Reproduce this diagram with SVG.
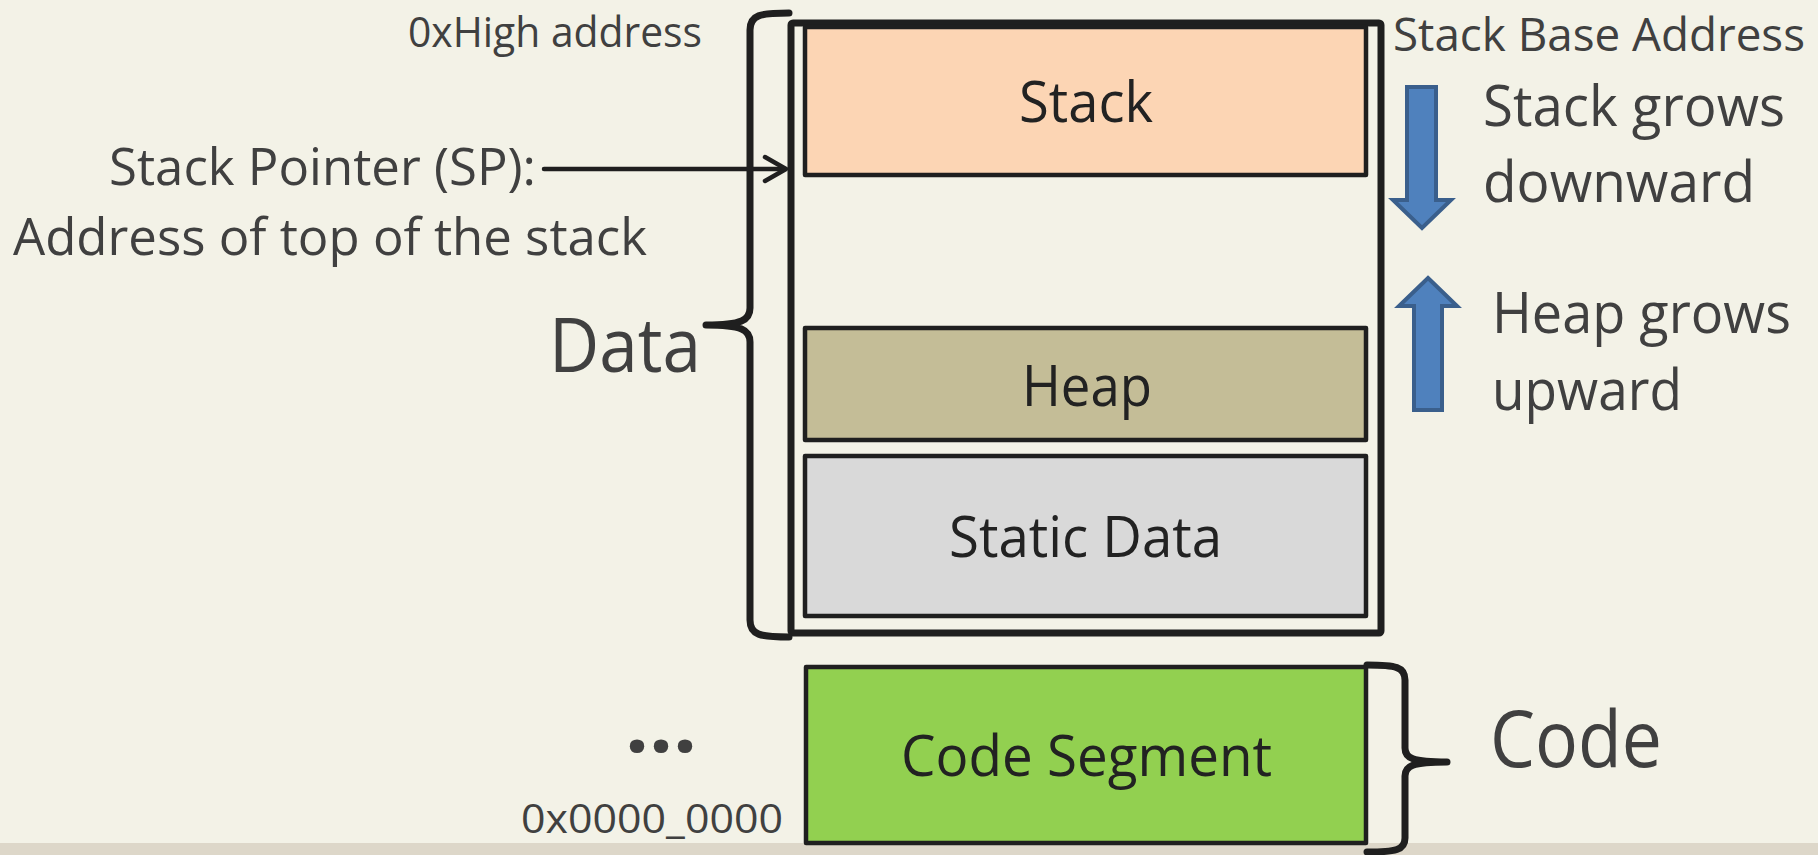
<svg xmlns="http://www.w3.org/2000/svg" width="1818" height="855" viewBox="0 0 1818 855">
  <defs>
    <style>
      .lbl { font-family: "Open Sans", "Liberation Sans", sans-serif; fill: #404040; }
      .box-lbl { font-family: "Open Sans", "Liberation Sans", sans-serif; fill: #222222; font-size: 57px; text-anchor: start; }
      .seg { stroke: #1f1f1f; stroke-width: 4.5; stroke-linejoin: round; }
      .brace { fill: none; stroke: #1f1f1f; stroke-width: 7; stroke-linecap: round; stroke-linejoin: round; }
      .grow { fill: #4f81bd; stroke: #3a5f8c; stroke-width: 4; stroke-linejoin: miter; }
      .conn { fill: none; stroke: #1f1f1f; stroke-width: 4.5; stroke-linecap: round; stroke-linejoin: round; }
    </style>
  </defs>

  <!-- page background and bottom strip -->
  <rect x="0" y="0" width="1818" height="855" fill="#f3f2e7"/>
  <rect x="0" y="843" width="1818" height="12" fill="#ddd7c9"/>

  <!-- address space frame (data region) -->
  <g id="memory-frame">
    <rect x="791" y="23" width="590" height="610" rx="2" fill="none" stroke="#1f1f1f" stroke-width="7"/>
  </g>

  <g id="stack">
    <rect class="seg" x="805" y="27" width="561" height="148" fill="#fcd5b4"/>
    <text class="box-lbl" x="1019" y="122" textLength="134" lengthAdjust="spacingAndGlyphs">Stack</text>
  </g>

  <g id="heap">
    <rect class="seg" x="805" y="328" width="561" height="112" fill="#c4bd97"/>
    <text class="box-lbl" x="1022" y="406" textLength="130" lengthAdjust="spacingAndGlyphs">Heap</text>
  </g>

  <g id="static-data">
    <rect class="seg" x="805" y="456" width="561" height="160" fill="#d9d9d9"/>
    <text class="box-lbl" x="949" y="557" textLength="273" lengthAdjust="spacingAndGlyphs">Static Data</text>
  </g>

  <g id="code-segment">
    <rect class="seg" x="806" y="667" width="560" height="176" fill="#92d050" stroke-width="5"/>
    <text class="box-lbl" x="901" y="776" textLength="371" lengthAdjust="spacingAndGlyphs">Code Segment</text>
  </g>

  <!-- braces grouping the regions -->
  <g id="data-brace">
    <path class="brace" d="M789,13 C760,13 750,15 750,30 L750,308 C750,320 742,325 706,325 C742,325 750,330 750,342 L750,620 C750,635 760,637 789,637"/>
    <text class="lbl" x="549" y="372" font-size="75" textLength="152" lengthAdjust="spacingAndGlyphs">Data</text>
  </g>

  <g id="code-brace">
    <path class="brace" d="M1367,665 C1396,665 1405,667 1405,680 L1405,748 C1405,758 1412,762 1447,762 C1412,762 1405,766 1405,776 L1405,838 C1405,850 1396,852 1367,852"/>
    <text class="lbl" x="1490" y="767" font-size="79" textLength="172" lengthAdjust="spacingAndGlyphs">Code</text>
  </g>

  <!-- growth direction arrows -->
  <g id="stack-growth">
    <polygon class="grow" points="1407,87 1436,87 1436,200 1451,200 1422,228 1393,200 1407,200"/>
    <text class="lbl" x="1483" y="126" font-size="57" textLength="302" lengthAdjust="spacingAndGlyphs">Stack grows</text>
    <text class="lbl" x="1483" y="202" font-size="57" textLength="272" lengthAdjust="spacingAndGlyphs">downward</text>
  </g>

  <g id="heap-growth">
    <polygon class="grow" points="1428,278 1457,306 1442,306 1442,410 1414,410 1414,306 1399,306"/>
    <text class="lbl" x="1492" y="333" font-size="57" textLength="299" lengthAdjust="spacingAndGlyphs">Heap grows</text>
    <text class="lbl" x="1492" y="410" font-size="57" textLength="190" lengthAdjust="spacingAndGlyphs">upward</text>
  </g>

  <!-- address annotations -->
  <g id="high-address">
    <text class="lbl" x="408" y="47" font-size="42" textLength="294" lengthAdjust="spacingAndGlyphs">0xHigh address</text>
  </g>

  <g id="stack-base">
    <text class="lbl" x="1393" y="51" font-size="46" textLength="412" lengthAdjust="spacingAndGlyphs">Stack Base Address</text>
  </g>

  <g id="stack-pointer">
    <text class="lbl" x="109" y="185" font-size="52" textLength="427" lengthAdjust="spacingAndGlyphs">Stack Pointer (SP):</text>
    <text class="lbl" x="13" y="255" font-size="52" textLength="634" lengthAdjust="spacingAndGlyphs">Address of top of the stack</text>
  </g>

  <g id="low-address">
    <text class="lbl" x="625" y="752" font-size="80" font-weight="bold" textLength="72" lengthAdjust="spacingAndGlyphs">...</text>
    <text class="lbl" x="521" y="833" font-size="40" textLength="262" lengthAdjust="spacingAndGlyphs">0x0000_0000</text>
  </g>

  <!-- connectors -->
  <g id="connectors">
    <line class="conn" x1="544" y1="169" x2="785" y2="169"/>
    <polyline class="conn" points="765,157 786,169 765,181"/>
  </g>
</svg>
